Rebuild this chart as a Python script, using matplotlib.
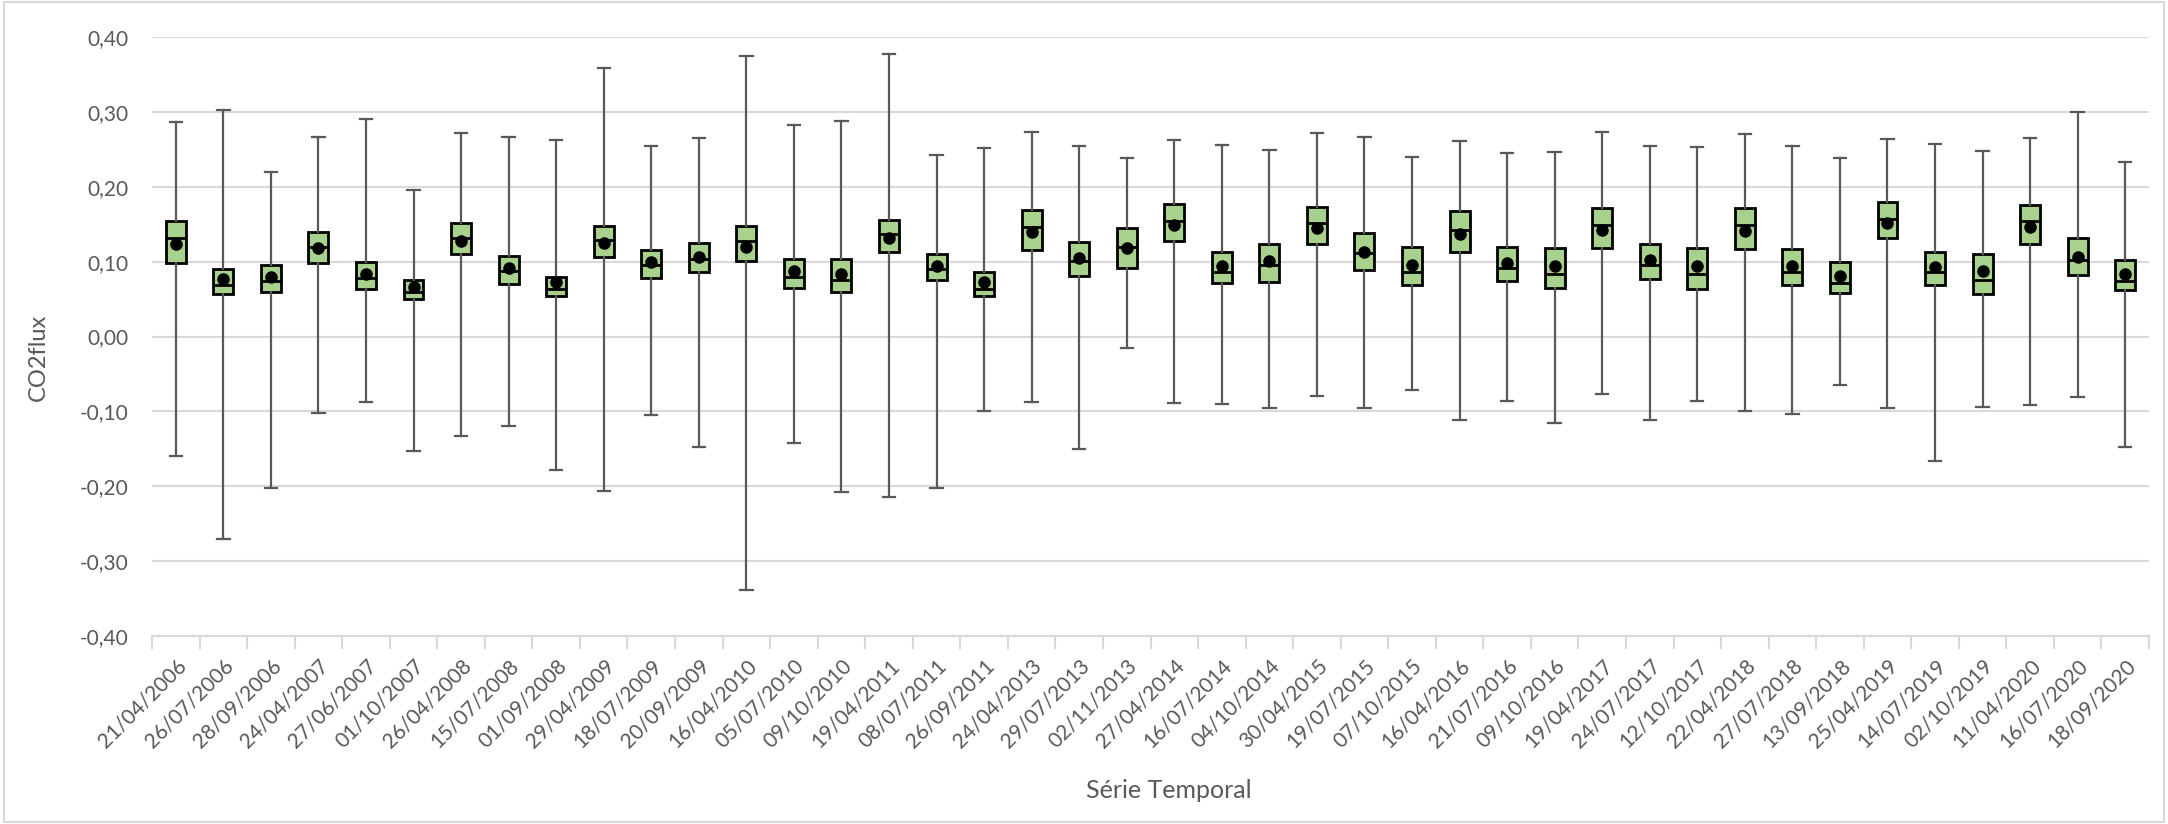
import matplotlib.pyplot as plt
from matplotlib.patches import Rectangle

# dates of the time series
dates = ["21/04/2006", "26/07/2006", "28/09/2006", "24/04/2007", "27/06/2007",
         "01/10/2007", "26/04/2008", "15/07/2008", "01/09/2008", "29/04/2009",
         "18/07/2009", "20/09/2009", "16/04/2010", "05/07/2010", "09/10/2010",
         "19/04/2011", "08/07/2011", "26/09/2011", "24/04/2013", "29/07/2013",
         "02/11/2013", "27/04/2014", "16/07/2014", "04/10/2014", "30/04/2015",
         "19/07/2015", "07/10/2015", "16/04/2016", "21/07/2016", "09/10/2016",
         "19/04/2017", "24/07/2017", "12/10/2017", "22/04/2018", "27/07/2018",
         "13/09/2018", "25/04/2019", "14/07/2019", "02/10/2019", "11/04/2020",
         "16/07/2020", "18/09/2020"]

whisker_hi = [0.286, 0.302, 0.220, 0.267, 0.291, 0.195, 0.272, 0.266, 0.262, 0.358,
              0.255, 0.265, 0.374, 0.282, 0.288, 0.377, 0.242, 0.252, 0.273, 0.254,
              0.238, 0.263, 0.256, 0.249, 0.272, 0.266, 0.240, 0.261, 0.245, 0.247,
              0.273, 0.254, 0.253, 0.270, 0.255, 0.238, 0.264, 0.257, 0.248, 0.265,
              0.300, 0.233]
q3 = [0.154, 0.090, 0.095, 0.140, 0.099, 0.076, 0.151, 0.107, 0.080, 0.147,
      0.116, 0.125, 0.148, 0.103, 0.103, 0.155, 0.110, 0.086, 0.169, 0.126,
      0.145, 0.177, 0.113, 0.124, 0.173, 0.138, 0.119, 0.167, 0.120, 0.118,
      0.172, 0.124, 0.118, 0.171, 0.117, 0.099, 0.179, 0.113, 0.110, 0.175,
      0.131, 0.102]
median = [0.131, 0.069, 0.074, 0.120, 0.078, 0.059, 0.132, 0.087, 0.064, 0.129,
          0.095, 0.104, 0.127, 0.080, 0.076, 0.137, 0.090, 0.064, 0.146, 0.101,
          0.119, 0.154, 0.086, 0.095, 0.152, 0.112, 0.086, 0.142, 0.092, 0.084,
          0.149, 0.096, 0.083, 0.149, 0.086, 0.071, 0.157, 0.086, 0.075, 0.154,
          0.102, 0.074]
mean = [0.124, 0.077, 0.080, 0.118, 0.084, 0.066, 0.128, 0.091, 0.073, 0.125,
        0.099, 0.106, 0.120, 0.087, 0.084, 0.131, 0.094, 0.073, 0.139, 0.105,
        0.118, 0.149, 0.094, 0.101, 0.145, 0.113, 0.095, 0.137, 0.098, 0.094,
        0.142, 0.102, 0.094, 0.141, 0.094, 0.081, 0.152, 0.093, 0.088, 0.146,
        0.106, 0.084]
q1 = [0.098, 0.057, 0.059, 0.098, 0.063, 0.050, 0.110, 0.070, 0.054, 0.106,
      0.078, 0.086, 0.101, 0.065, 0.060, 0.113, 0.075, 0.054, 0.115, 0.081,
      0.092, 0.128, 0.071, 0.073, 0.123, 0.089, 0.069, 0.113, 0.074, 0.065,
      0.118, 0.077, 0.064, 0.117, 0.069, 0.058, 0.131, 0.069, 0.057, 0.124,
      0.082, 0.062]
whisker_lo = [-0.159, -0.270, -0.202, -0.102, -0.088, -0.153, -0.133, -0.119, -0.178, -0.206,
              -0.105, -0.147, -0.339, -0.142, -0.208, -0.215, -0.203, -0.099, -0.087, -0.150,
              -0.015, -0.089, -0.090, -0.096, -0.079, -0.096, -0.072, -0.111, -0.086, -0.116,
              -0.077, -0.111, -0.086, -0.099, -0.104, -0.065, -0.096, -0.166, -0.094, -0.092,
              -0.081, -0.148]

GREY = "#595959"
W, H = 2168, 824
plt.rcParams['font.family'] = ['Lato', 'DejaVu Sans']

fig = plt.figure(figsize=(W / 100, H / 100), dpi=100)
ax = fig.add_axes([152 / W, 1 - 636 / H, (2149 - 152) / W, (636 - 37) / H])

stats = []
for i in range(len(dates)):
    stats.append({"whislo": whisker_lo[i], "q1": q1[i], "med": median[i],
                  "q3": q3[i], "whishi": whisker_hi[i], "mean": mean[i],
                  "fliers": [], "label": dates[i]})

pos = list(range(1, len(dates) + 1))
ax.bxp(stats, positions=pos, widths=0.42, patch_artist=True, showmeans=True,
       boxprops=dict(facecolor="#A9D18E", edgecolor="black", linewidth=2),
       medianprops=dict(color="black", linewidth=2),
       whiskerprops=dict(color=GREY, linewidth=1.6),
       capprops=dict(color=GREY, linewidth=1.6),
       capwidths=0.26,
       meanprops=dict(marker="o", markerfacecolor="black", markeredgecolor="black",
                      markersize=8),
       zorder=3)

ax.set_ylim(-0.40, 0.40)
ax.set_yticks([-0.4, -0.3, -0.2, -0.1, 0.0, 0.1, 0.2, 0.3, 0.4])
ax.set_yticklabels(["{:.2f}".format(v).replace(".", ",") for v in ax.get_yticks()])
ax.yaxis.grid(True, color="#d9d9d9", linewidth=1.5, zorder=0)
ax.set_axisbelow(True)

ax.set_xlim(0.5, len(dates) + 0.5)
ax.set_xticks(pos)
ax.set_xticklabels(dates, rotation=45, ha="right", rotation_mode="anchor")
ax.set_xticks([p + 0.5 for p in range(len(dates) + 1)], minor=True)
ax.tick_params(axis="x", which="major", length=0, pad=14, labelsize=15, labelcolor=GREY)
ax.tick_params(axis="x", which="minor", length=9, width=1.5, color="#d9d9d9")
ax.tick_params(axis="y", length=0, pad=17, labelsize=15, labelcolor=GREY)

for s in ["top", "right", "left"]:
    ax.spines[s].set_visible(False)
ax.spines["bottom"].set_color("#d9d9d9")
ax.spines["bottom"].set_linewidth(1.5)

# axis titles
fig.text(38 / W, 1 - 357 / H, "CO2flux", fontsize=17, color=GREY,
         rotation=90, ha="center", va="center")
fig.text(1169 / W, 1 - 790 / H, "Série Temporal", fontsize=18,
         color=GREY, ha="center", va="center")

# thin chart border
fig.patches.append(Rectangle((0.002, 0.003), 0.996, 0.994, transform=fig.transFigure,
                             fill=False, edgecolor="#d9d9d9", linewidth=1.5))

fig.savefig("out.png", dpi=100)
